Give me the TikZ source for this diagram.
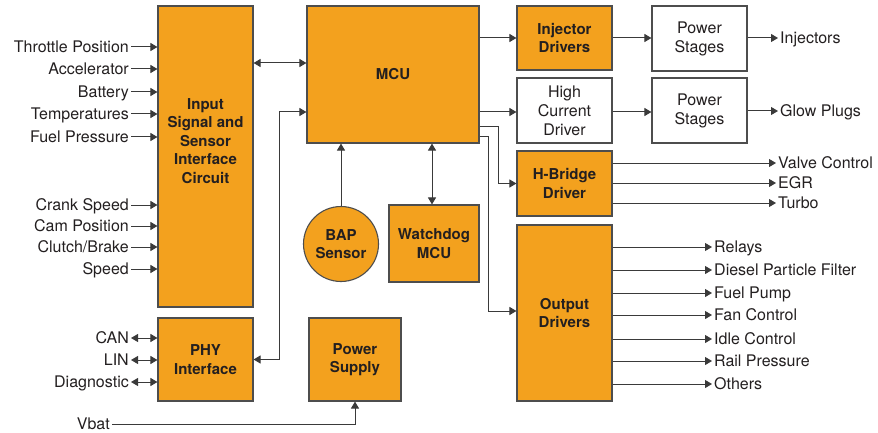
\documentclass[tikz,border=0pt]{standalone}
\usepackage{fontspec}
\setmainfont{TeX Gyre Heros}
\usetikzlibrary{arrows.meta}
\definecolor{orng}{HTML}{F3A11E}
\definecolor{edgec}{HTML}{4D4D4D}
\definecolor{lnc}{HTML}{3A3A3A}
\definecolor{txtc}{HTML}{231F20}
\begin{document}
\begin{tikzpicture}[x=1pt,y=-1pt,
  ob/.style={draw=edgec, line width=1.1pt, fill=orng, text=txtc, align=center, inner sep=0pt,
    font=\fontsize{15}{18.5}\selectfont\bfseries},
  wb/.style={draw=edgec, line width=1.1pt, fill=white, text=txtc, align=center, inner sep=0pt,
    font=\fontsize{16}{19}\selectfont},
  btxt/.style={text=txtc, align=center, inner sep=0pt, font=\fontsize{15}{18.5}\selectfont\bfseries},
  lab/.style={text=txtc, inner sep=2pt, text height=11.5pt, text depth=0pt, font=\fontsize{16}{19}\selectfont},
  tip/.tip={Triangle[length=7pt,width=8pt]},
  ar/.style={draw=lnc, line width=1pt, -tip},
  dar/.style={draw=lnc, line width=1pt, tip-tip}]
\useasboundingbox (0,0) rectangle (878,433);

% boxes
\node[ob, minimum width=95, minimum height=301] (in) at (205.5,156.5) {};
\node[btxt] (intxt) at (205.5,141) {Input\\Signal and\\Sensor\\Interface\\Circuit};
\node[ob, minimum width=95, minimum height=83] (phy) at (205.5,359.5) {PHY\\Interface};
\node[ob, minimum width=92, minimum height=83] (ps) at (355,359.5) {Power\\Supply};
\node[ob, circle, minimum size=75] (bap) at (341,244) {BAP\\Sensor};
\node[ob, minimum width=90, minimum height=77] (wd) at (434,243.5) {Watchdog\\MCU};
\node[ob, minimum width=172, minimum height=137] (mcu) at (393,74.5) {MCU};
\node[ob, minimum width=95, minimum height=64] (inj) at (564.5,38) {Injector\\Drivers};
\node[wb, minimum width=95, minimum height=65] (hcd) at (564.5,110.5) {High\\Current\\Driver};
\node[ob, minimum width=95, minimum height=65] (hb) at (564.5,183.5) {H-Bridge\\Driver};
\node[ob, minimum width=95, minimum height=176] (od) at (564.5,313) {Output\\Drivers};
\node[wb, minimum width=95, minimum height=65] (ps1) at (699.5,38.5) {Power\\Stages};
\node[wb, minimum width=95, minimum height=65] (ps2) at (699.5,110.5) {Power\\Stages};

% input labels
\foreach \n/\y/\t in {l1/47/Throttle Position, l2/69/Accelerator, l3/92/Battery,
  l4/114/Temperatures, l5/137/Fuel Pressure, l6/205/Crank Speed, l7/226/Cam Position,
  l8/247/Clutch\slash Brake, l9/269/Speed}{
  \node[lab, anchor=east] (\n) at (131,\y) {\t};
  \draw[ar] (\n.east) -- (\n.east -| in.west);
}
% bus labels
\foreach \n/\y/\t in {b1/338/CAN, b2/360/LIN, b3/382/Diagnostic}{
  \node[lab, anchor=east] (\n) at (131,\y) {\t};
  \draw[dar] (\n.east) -- (\n.east -| phy.west);
}
% Vbat
\node[lab, anchor=east] (vbat) at (112,424) {Vbat};
\draw[ar] (vbat.east) -| (ps.south);

% MCU connections
\coordinate (c1) at ([yshift=11.5pt]mcu.west);
\draw[dar] (c1 -| in.east) -- (c1);
\coordinate (c2) at ([yshift=-37.5pt]mcu.west);
\draw[dar] (phy.east) -| ([xshift=-27pt]c2) -- (c2);
\draw[ar] (bap.north) -- (bap.north |- mcu.south);
\draw[dar] ([xshift=-2pt]wd.north) -- ([xshift=-2pt]wd.north |- mcu.south);
\draw[ar] (inj.west -| mcu.east) -- (inj.west);
\coordinate (c5) at ([yshift=-37.5pt]mcu.east);
\draw[ar] (c5) -- (c5 -| hcd.west);
\coordinate (c3) at ([yshift=-52.5pt]mcu.east);
\draw[ar] (c3) -| ([xshift=-18pt]hb.west) -- (hb.west);
\coordinate (c4) at ([yshift=-62.5pt]mcu.east);
\draw[ar] (c4) -| ([xshift=-28pt,yshift=2pt]od.west) -- ([yshift=2pt]od.west);

% power stages
\draw[ar] (inj.east) -- (inj.east -| ps1.west);
\draw[ar] (c5 -| hcd.east) -- (c5 -| ps2.west);
\node[lab, anchor=west] (r1) at (778,38) {Injectors};
\draw[ar] (r1.west -| ps1.east) -- (r1.west);
\node[lab, anchor=west] (r2) at (778,111) {Glow Plugs};
\draw[ar] (r2.west -| ps2.east) -- (r2.west);

% H-bridge outputs
\foreach \n/\y/\t in {h1/163/Valve Control, h2/183/EGR, h3/203/Turbo}{
  \node[lab, anchor=west] (\n) at (776,\y) {\t};
  \draw[ar] (\n.west -| hb.east) -- (\n.west);
}
% output driver outputs
\foreach \n/\y/\t in {o1/247/Relays, o2/270/Diesel Particle Filter, o3/293/Fuel Pump,
  o4/315/Fan Control, o5/339/Idle Control, o6/361/Rail Pressure, o7/384/Others}{
  \node[lab, anchor=west] (\n) at (712,\y) {\t};
  \draw[ar] (\n.west -| od.east) -- (\n.west);
}
\end{tikzpicture}
\end{document}
